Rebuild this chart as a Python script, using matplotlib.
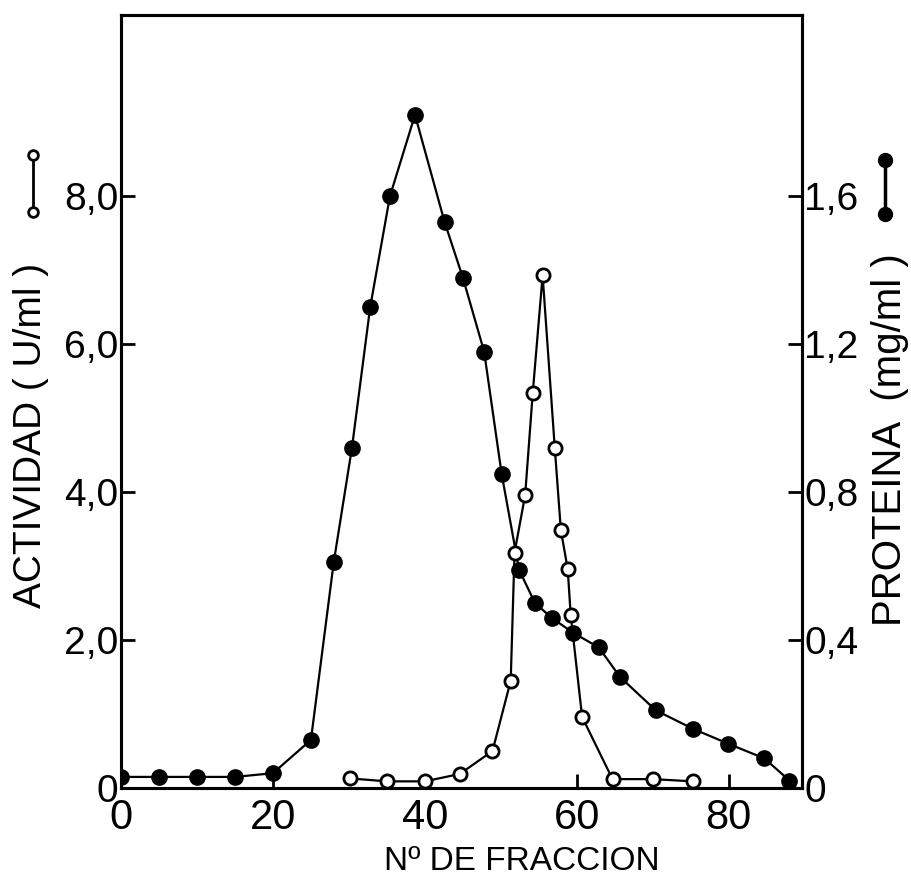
# elution profile: actividad (open) y proteina (filled) vs fraccion
import matplotlib.pyplot as plt
from matplotlib.lines import Line2D

# proteina (mg/ml), right axis
frac_prot = [0, 5, 10, 15, 20, 25, 28, 30.4, 32.8, 35.4, 38.7, 42.6, 45, 47.8,
             50.1, 52.4, 54.5, 56.7, 59.5, 62.9, 65.7, 70.4, 75.3, 79.9, 84.7, 88]
proteina = [0.03, 0.03, 0.03, 0.03, 0.04, 0.13, 0.61, 0.92, 1.30, 1.60, 1.82, 1.53, 1.38, 1.18,
            0.85, 0.59, 0.50, 0.46, 0.42, 0.38, 0.30, 0.21, 0.16, 0.12, 0.08, 0.02]

# actividad (U/ml), left axis
frac_act = [30.1, 35, 40, 44.6, 48.9, 51.3, 51.8, 53.2, 54.2, 55.5, 57.1, 57.9,
            58.8, 59.2, 60.7, 64.7, 70, 75.3]
actividad = [0.13, 0.09, 0.09, 0.19, 0.5, 1.45, 3.18, 3.96, 5.34, 6.93, 4.6, 3.49,
             2.96, 2.34, 0.96, 0.12, 0.12, 0.09]

xticks = [0, 20, 40, 60, 80]
left_ticks = [0, 2, 4, 6, 8]
left_labels = ['0', '2,0', '4,0', '6,0', '8,0']
right_ticks = [0, 0.4, 0.8, 1.2, 1.6]
right_labels = ['0', '0,4', '0,8', '1,2', '1,6']

plt.rcParams['font.family'] = ['Liberation Sans', 'DejaVu Sans']

fig = plt.figure(figsize=(9.12, 8.9), dpi=100)
ax1 = fig.add_axes([0.1327, 0.1146, 0.7463, 0.8685])
ax2 = ax1.twinx()

lw = 1.6
ax2.plot(frac_prot, proteina, '-o', color='black', lw=lw, ms=11,
         mfc='black', mec='black', zorder=2)
ax1.plot(frac_act, actividad, '-o', color='black', lw=lw, ms=9.5,
         mfc='white', mec='black', mew=2, zorder=3)
ax1.set_zorder(ax2.get_zorder() + 1)
ax1.patch.set_visible(False)

ax1.set_xlim(0, 89.6)
ax1.set_ylim(0, 10.45)
ax2.set_ylim(0, 2.09)

ax1.set_xticks(xticks)
ax1.set_xticklabels([str(t) for t in xticks])
ax1.set_yticks(left_ticks)
ax1.set_yticklabels(left_labels)
ax2.set_yticks(right_ticks)
ax2.set_yticklabels(right_labels)

ax1.tick_params(axis='x', direction='in', length=10, width=2, labelsize=30, pad=7)
ax1.tick_params(axis='y', direction='in', length=10, width=2, labelsize=28, pad=2)
ax2.tick_params(axis='y', direction='in', length=10, width=2, labelsize=28, pad=2)

for ax in (ax1, ax2):
    for s in ax.spines.values():
        s.set_linewidth(2.2)

# axis titles
fig.text(0.572, 0.032, 'Nº DE FRACCION', fontsize=24, ha='center', va='center')
fig.text(0.034, 0.511, 'ACTIVIDAD ( U/ml )', fontsize=28, rotation=90,
         ha='center', va='center')
fig.text(0.976, 0.506, 'PROTEINA  (mg/ml )', fontsize=29, rotation=90,
         ha='center', va='center')

# key symbols next to the axis titles
fig.add_artist(Line2D([0.036, 0.036], [0.826, 0.762], transform=fig.transFigure,
                      color='black', lw=2, marker='o', ms=7, mfc='white', mec='black', mew=2))
fig.add_artist(Line2D([0.970, 0.970], [0.820, 0.760], transform=fig.transFigure,
                      color='black', lw=2.5, marker='o', ms=10, mfc='black', mec='black'))

fig.savefig('out.png', dpi=100)
